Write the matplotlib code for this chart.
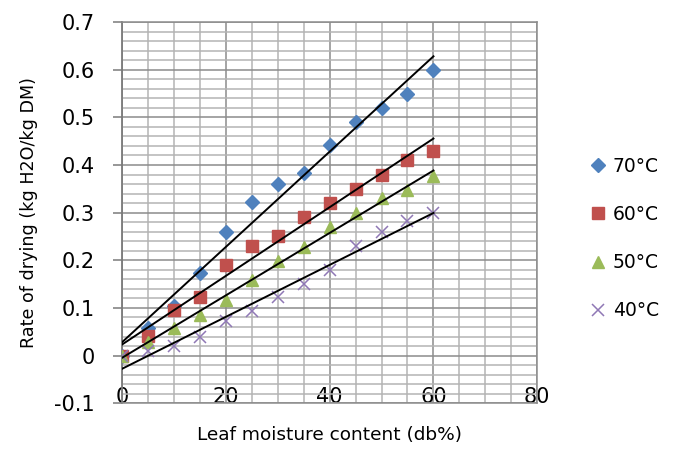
import matplotlib
matplotlib.use('Agg')
import matplotlib.pyplot as plt
from matplotlib.ticker import MultipleLocator
import numpy as np

# leaf moisture content (db%)
moisture = [0, 5, 10, 15, 20, 25, 30, 35, 40, 45, 50, 55, 60]

# rate of drying (kg H2O / kg DM) at each temperature
rate_70 = [0.0, 0.057, 0.103, 0.174, 0.26, 0.323, 0.36, 0.383, 0.443, 0.49, 0.52, 0.55, 0.60]
rate_60 = [0.0, 0.042, 0.095, 0.123, 0.19, 0.23, 0.25, 0.29, 0.32, 0.35, 0.38, 0.41, 0.43]
rate_50 = [0.0, 0.028, 0.057, 0.085, 0.116, 0.158, 0.198, 0.228, 0.27, 0.30, 0.33, 0.347, 0.376]
rate_40 = [0.0, 0.01, 0.021, 0.04, 0.072, 0.094, 0.123, 0.151, 0.18, 0.23, 0.26, 0.283, 0.30]

labels = ['70°C', '60°C', '50°C', '40°C']

fig = plt.figure(figsize=(6.81, 4.51), dpi=100)
ax = fig.add_axes([0.179, 0.106, 0.610, 0.845])

styles = [
    dict(marker='D', color='#4F81BD', ms=7),
    dict(marker='s', color='#C0504D', ms=8),
    dict(marker='^', color='#9BBB59', ms=8),
    dict(marker='x', color='#8F78B5', ms=8, mew=1.1),
]

x = np.array(moisture)
for ys, lab, st in zip([rate_70, rate_60, rate_50, rate_40], labels, styles):
    ax.plot(x, ys, linestyle='none', label=lab, zorder=3, **st)
    k, b = np.polyfit(x, ys, 1)
    ax.plot([0, 60], [b, k * 60 + b], color='black', lw=1.4, zorder=4)

ax.set_xlim(0, 80)
ax.set_ylim(-0.1, 0.7)
ax.xaxis.set_major_locator(MultipleLocator(20))
ax.xaxis.set_minor_locator(MultipleLocator(5))
ax.yaxis.set_minor_locator(MultipleLocator(0.02))
ax.set_yticks(np.round(np.arange(-0.1, 0.71, 0.1), 1))
ax.set_yticklabels(['-0.1', '0', '0.1', '0.2', '0.3', '0.4', '0.5', '0.6', '0.7'])

ax.grid(which='major', color='#8c8c8c', lw=1.1, zorder=0)
ax.grid(which='minor', color='#b4b4b4', lw=1.1, zorder=0)
ax.set_axisbelow(True)
for s in ['top', 'right', 'bottom']:
    ax.spines[s].set_color('#8c8c8c')
    ax.spines[s].set_linewidth(1.1)
ax.spines['left'].set_color('#7a7a7a')
ax.spines['left'].set_linewidth(1.3)

ax.tick_params(axis='y', which='major', length=6.5, width=1.1, color='#7a7a7a', pad=13,
               labelsize=15)
ax.tick_params(axis='x', which='major', length=0, pad=-11.5, labelsize=15)
ax.tick_params(which='minor', length=0)

ax.set_xlabel('Leaf moisture content (db%)', fontsize=13.3, labelpad=13)
ax.set_ylabel('Rate of drying (kg H2O/kg DM)', fontsize=12.6, labelpad=12)

fig.legend(loc='center left', bbox_to_anchor=(0.85, 0.471), frameon=False,
           prop={'size': 13.5}, handlelength=1.0, handletextpad=0.3,
           labelspacing=1.55, borderpad=0)

fig.savefig('out.png', dpi=100)
